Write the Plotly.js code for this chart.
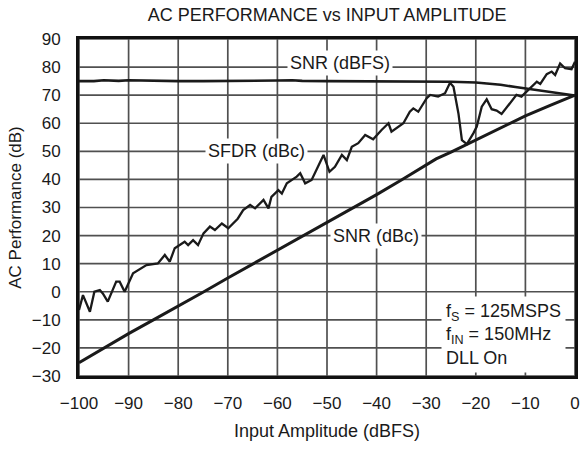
<!DOCTYPE html>
<html>
<head>
<meta charset="utf-8">
<script src="https://cdn.plot.ly/plotly-3.0.1.min.js"></script>
<style>
html,body{margin:0;padding:0;background:#fff;}
#chart{width:584px;height:449px;}
</style>
</head>
<body>
<div id="chart"></div>
<script>
// SNR (dBFS)
var snrFsX = [-100,-97,-95,-92,-90,-87,-84,-80,-75,-70,-65,-60,-57,-55,-50,-45,-40,-35,-30,-28,-25,-20,-17,-15,-12,-10,-7,-5,-3,0];
var snrFsY = [75,75,75.3,75.1,75.3,75.2,75,75,75,75,75,75.2,75.3,75.1,75,75,75,75,75,75,74.8,74.5,74.1,73.7,72.9,72.4,71.6,71.1,70.6,69.9];

// SNR (dBc)
var snrCX = [-100,-95,-90,-85,-80,-75,-70,-65,-60,-55,-50,-45,-40,-35,-30,-28,-25,-20,-18,-15,-10,-5,0];
var snrCY = [-25.3,-20,-14.9,-10,-5.2,-0.2,4.9,9.8,14.8,19.8,24.8,29.6,34.6,39.8,45,47.3,49.7,54,55.6,58.3,62.6,66.4,70];

// SFDR (dBc)
var sfdrX = [-100,-99.2,-97.8,-96.9,-95.8,-95.2,-94.2,-92.5,-91.8,-90.8,-89.1,-86.4,-84.1,-82.7,-81.7,-80.7,-78.7,-78,-77,-76,-74.9,-73.6,-72.6,-71.2,-69.9,-68,-66.9,-65.5,-64.5,-62.8,-61.8,-61.2,-59.8,-59.1,-58.1,-56.1,-55.4,-54.4,-53.1,-51.4,-50.7,-49.5,-48.4,-47,-46,-45,-43.7,-42.3,-40.7,-39,-37.6,-37,-35.6,-34.6,-33.3,-32.6,-31.6,-29.9,-29.2,-27.6,-26.2,-25.2,-24.5,-23.5,-22.8,-21.8,-20.5,-19.8,-18.8,-17.8,-16.8,-15.8,-14.8,-13.1,-11.8,-10.8,-9.1,-7.7,-7,-5.7,-4.7,-4,-3,-2,-0.7,0];
var sfdrY = [-6.5,-1.2,-7.1,0,0.6,-0.6,-3.5,3.6,3.6,0,6.6,9.5,10.1,13.1,10.7,15.5,17.8,16.6,18.4,16.6,20.8,23.2,22,24.3,22.6,26,29.1,30.9,29.7,32.7,29.7,33.8,36.2,35,38.6,41,42.2,38.6,39.8,46,48.7,42.7,44.5,48.7,46.9,51.6,52.9,55.8,54.3,57.6,60,57,58.8,60,64.1,65.3,64.1,68.9,70.1,69.5,70.7,74.4,73,63.5,54,52.6,56.4,58.8,65.9,68.5,65,64.5,63.3,67.1,70.1,69.5,72.4,74.8,74,77.5,78.4,77.2,81.3,79.6,79.2,81.9];

// tick / grid values
var xTicks = [-100,-90,-80,-70,-60,-50,-40,-30,-20,-10,0];
var yTicks = [-30,-20,-10,0,10,20,30,40,50,60,70,80,90];

var FONT = 'Liberation Sans, Arial, Helvetica, sans-serif';
var GRID = '#505050';
var xMin = xTicks[0], xMax = xTicks[xTicks.length-1];
var yMin = yTicks[0], yMax = yTicks[yTicks.length-1];

var traces = [
  {x: snrFsX, y: snrFsY, mode:'lines', line:{color:'#1a1a1a', width:2.6}, hoverinfo:'skip'},
  {x: snrCX, y: snrCY, mode:'lines', line:{color:'#1a1a1a', width:3}, hoverinfo:'skip'},
  {x: sfdrX, y: sfdrY, mode:'lines', line:{color:'#1a1a1a', width:2.3}, hoverinfo:'skip'}
];

// grid lines built from the tick arrays, referenced to the axes
var shapes = [];
xTicks.forEach(function(v){
  shapes.push({type:'line', layer:'below', xref:'x', yref:'y', x0:v, x1:v, y0:yMin, y1:yMax, line:{color:GRID, width:1.7}});
});
yTicks.forEach(function(v){
  shapes.push({type:'line', layer:'below', xref:'x', yref:'y', x0:xMin, x1:xMax, y0:v, y1:v, line:{color:GRID, width:1.7}});
});

var layout = {
  width:584, height:449,
  margin:{l:79, r:9, t:39, b:73},
  paper_bgcolor:'#ffffff', plot_bgcolor:'rgba(0,0,0,0)',
  showlegend:false,
  font:{family:FONT, size:17, color:'#1a1a1a'},
  title:{text:'AC PERFORMANCE vs INPUT AMPLITUDE', font:{family:FONT, size:18, color:'#1a1a1a'},
         x:0.56, xref:'container', xanchor:'center', y:1-15/449, yref:'container', yanchor:'middle'},
  xaxis:{range:[xMin,xMax], tickvals:xTicks,
         showgrid:false, zeroline:false,
         showline:true, mirror:true, linecolor:'#111', linewidth:3,
         ticks:'outside', ticklen:10, tickcolor:'rgba(0,0,0,0)',
         tickfont:{family:FONT, size:17, color:'#1a1a1a'},
         title:{text:'Input Amplitude (dBFS)', font:{family:FONT, size:18, color:'#1a1a1a'}, standoff:12}},
  yaxis:{range:[yMin,yMax], tickvals:yTicks,
         showgrid:false, zeroline:false,
         showline:true, mirror:true, linecolor:'#111', linewidth:3,
         ticks:'outside', ticklen:12, tickcolor:'rgba(0,0,0,0)',
         tickfont:{family:FONT, size:17, color:'#1a1a1a'},
         title:{text:'AC Performance (dB)', font:{family:FONT, size:17, color:'#1a1a1a'}, standoff:6}},
  shapes: shapes,
  annotations:[
    {x:-47.4, y:81.3, xref:'x', yref:'y', text:'SNR (dBFS)', showarrow:false, bgcolor:'#fff', borderpad:2, font:{family:FONT,size:18,color:'#1a1a1a'}},
    {x:-64.3, y:50, xref:'x', yref:'y', text:'SFDR (dBc)', showarrow:false, bgcolor:'#fff', borderpad:2, font:{family:FONT,size:18,color:'#1a1a1a'}},
    {x:-40.1, y:19.8, xref:'x', yref:'y', text:'SNR (dBc)', showarrow:false, bgcolor:'#fff', borderpad:2, font:{family:FONT,size:18,color:'#1a1a1a'}},
    {x:-27, y:-15.3, xref:'x', yref:'y', xanchor:'left', yanchor:'middle', align:'left',
     text:'f<sub>S</sub> = 125MSPS<br>f<sub>IN</sub> = 150MHz<br>DLL On', showarrow:false, bgcolor:'#fff', borderpad:4,
     font:{family:FONT,size:18,color:'#1a1a1a'}}
  ]
};

Plotly.newPlot('chart', traces, layout, {displayModeBar:false, responsive:false});
</script>
</body>
</html>
